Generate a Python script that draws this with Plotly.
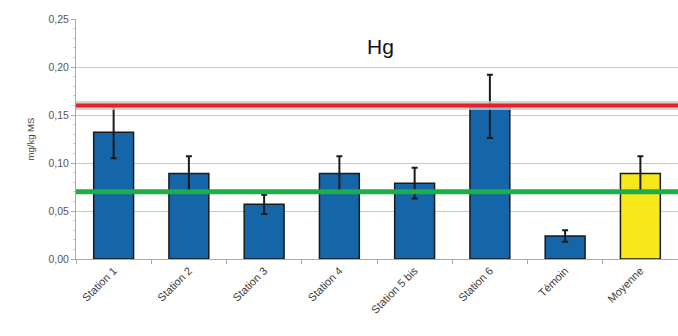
import plotly.graph_objects as go

categories = ["Station 1", "Station 2", "Station 3", "Station 4", "Station 5 bis", "Station 6", "Témoin", "Moyenne"]
values = [0.132, 0.089, 0.057, 0.089, 0.079, 0.159, 0.024, 0.089]
errors = [0.027, 0.018, 0.010, 0.018, 0.016, 0.033, 0.006, 0.018]
bar_colors = ["#1565A9"] * 7 + ["#F7E81C"]
red_threshold = 0.16
green_threshold = 0.07
y_ticks = [0, 0.05, 0.10, 0.15, 0.20, 0.25]
y_tick_text = ["0,00", "0,05", "0,10", "0,15", "0,20", "0,25"]

fig = go.Figure()
fig.add_trace(go.Bar(
    x=categories, y=values,
    marker=dict(color=bar_colors, line=dict(color="#1a1a1a", width=1.5)),
    error_y=dict(type="data", array=errors, visible=True, color="#1a1a1a", thickness=2, width=3),
    showlegend=False,
))

fig.add_hline(y=red_threshold, line=dict(color="rgba(200,200,200,0.8)", width=9), layer="above")
fig.add_hline(y=red_threshold, line=dict(color="#E4202A", width=4), layer="above")
fig.add_hline(y=green_threshold, line=dict(color="#1DAE4A", width=5), layer="above")

fig.add_annotation(text="Hg", x=0.506, y=0.885, xref="paper", yref="paper", showarrow=False,
                   xanchor="center", yanchor="middle",
                   font=dict(family="Liberation Sans, Arial", size=21, color="#111111"))

fig.update_layout(
    width=678, height=336,
    margin=dict(l=76, r=0, t=19, b=77),
    paper_bgcolor="white", plot_bgcolor="white",
    bargap=0.47,
    font=dict(family="Liberation Sans, Arial", color="#555555"),
    xaxis=dict(
        tickangle=-45, tickfont=dict(size=11, color="#3a3a3a"),
        showline=True, linecolor="#aaaaaa", linewidth=1,
        ticks="outside", tickson="boundaries", ticklen=4, tickcolor="#aaaaaa",
        showgrid=False,
    ),
    yaxis=dict(
        range=[0, 0.25], tickvals=y_ticks, ticktext=y_tick_text,
        tickfont=dict(size=10.5, color="#555555"),
        showgrid=True, gridcolor="#c8c8c8", gridwidth=1,
        showline=True, linecolor="#aaaaaa", linewidth=1,
        ticks="outside", ticklen=4, tickcolor="#aaaaaa",
        minor=dict(dtick=0.01, ticks="outside", ticklen=2, tickcolor="#cccccc", showgrid=False),
        zeroline=False,
        title=dict(text="mg/kg MS", font=dict(size=9.5, color="#444444"), standoff=12),
    ),
)

fig.write_html("out.html", config={"displayModeBar": False},
               post_script="document.body.style.margin='0';document.body.style.padding='0';")
